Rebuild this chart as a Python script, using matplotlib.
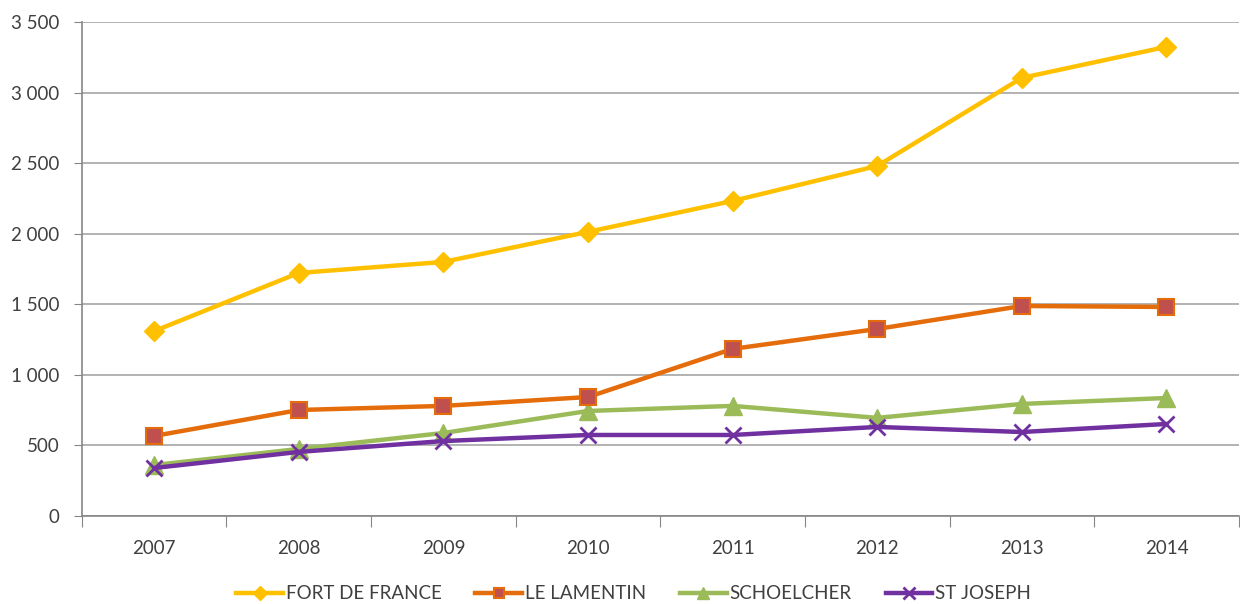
import matplotlib.pyplot as plt
from matplotlib.ticker import FuncFormatter

# Data
years = ["2007", "2008", "2009", "2010", "2011", "2012", "2013", "2014"]
fort_de_france = [1310, 1722, 1800, 2013, 2232, 2480, 3104, 3324]
le_lamentin = [567, 751, 780, 843, 1184, 1325, 1488, 1481]
schoelcher = [361, 475, 588, 744, 780, 695, 794, 836]
st_joseph = [340, 454, 531, 574, 574, 631, 595, 652]

plt.rcParams['font.family'] = ['Lato', 'DejaVu Sans']

fig = plt.figure(figsize=(12.4, 6.04), dpi=100)
ax = fig.add_axes([0.066, 0.1457, 0.933, 0.8179])

x = range(len(years))
lw = 3.2
ax.plot(x, fort_de_france, color='#FFC000', lw=lw, marker='D', ms=10,
        mfc='#FFC000', mec='#FFC000', label='FORT DE FRANCE', zorder=4)
ax.plot(x, le_lamentin, color='#E46C0A', lw=lw, marker='s', ms=11,
        mfc='#C0504D', mec='#E46C0A', mew=1.5, label='LE LAMENTIN', zorder=3)
ax.plot(x, schoelcher, color='#9BBB59', lw=lw, marker='^', ms=13,
        mfc='#9BBB59', mec='#9BBB59', label='SCHOELCHER', zorder=2)
ax.plot(x, st_joseph, color='#7030A0', lw=lw, marker='x', ms=12, mew=2,
        mec='#7030A0', label='ST JOSEPH', zorder=3)

ax.set_xlim(-0.5, len(years) - 0.5)
ax.set_ylim(0, 3500)
ax.set_yticks(range(0, 3501, 500))
ax.yaxis.set_major_formatter(FuncFormatter(lambda v, p: f"{int(v):,}".replace(",", " ")))
ax.grid(axis='y', color='#A6A6A6', lw=1.2)
ax.set_axisbelow(True)

# category labels in the middle, tick marks between categories
ax.set_xticks([i + 0.5 for i in range(-1, len(years))])
ax.set_xticklabels([])
ax.set_xticks(list(x), minor=True)
ax.set_xticklabels(years, minor=True)
ax.tick_params(axis='x', which='minor', length=0, pad=17, labelsize=13.5, labelcolor='#404040')
ax.tick_params(axis='x', which='major', length=8, color='#868686', direction='out')
ax.tick_params(axis='y', length=6, color='#868686', labelsize=13.5, labelcolor='#404040', pad=10)

for s in ['top', 'right']:
    ax.spines[s].set_visible(False)
for s in ['left', 'bottom']:
    ax.spines[s].set_color('#868686')
    ax.spines[s].set_linewidth(1.2)

leg = fig.legend(loc='lower center', bbox_to_anchor=(0.511, -0.025), ncol=4, frameon=False,
                 fontsize=13.5, handlelength=2.5, columnspacing=1.8, handletextpad=0.15,
                 markerscale=0.7)
for t in leg.get_texts():
    t.set_color('#404040')

fig.savefig('out.png', dpi=100)
